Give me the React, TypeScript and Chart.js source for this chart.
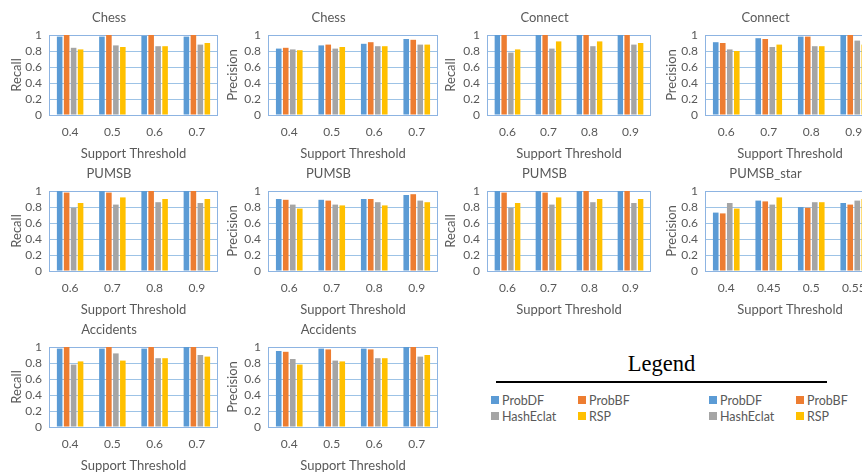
import React, { useEffect, useRef } from 'react';
import { Chart, registerables } from 'chart.js';

Chart.register(...registerables);

// ---------- data ----------
const seriesNames = ['ProbDF', 'ProbBF', 'HashEclat', 'RSP'];
const seriesColors = ['#5B9BD5', '#ED7D31', '#A5A5A5', '#FFC000'];

const chessThresholds = ['0.4', '0.5', '0.6', '0.7'];
const connectThresholds = ['0.6', '0.7', '0.8', '0.9'];
const pumsbThresholds = ['0.6', '0.7', '0.8', '0.9'];
const pumsbStarThresholds = ['0.4', '0.45', '0.5', '0.55'];
const accidentsThresholds = ['0.4', '0.5', '0.6', '0.7'];

const yTicks = [0, 0.2, 0.4, 0.6, 0.8, 1];

// each: [ProbDF, ProbBF, HashEclat, RSP]
const chessRecall = [
  [0.98, 0.98, 0.99, 0.98],
  [1, 1, 1, 1],
  [0.84, 0.87, 0.86, 0.88],
  [0.82, 0.85, 0.86, 0.9],
];
const chessPrecision = [
  [0.83, 0.87, 0.89, 0.95],
  [0.84, 0.88, 0.91, 0.94],
  [0.82, 0.83, 0.86, 0.88],
  [0.81, 0.85, 0.86, 0.88],
];
const connectRecall = [
  [1, 1, 1, 1],
  [1, 1, 1, 1],
  [0.78, 0.83, 0.86, 0.88],
  [0.82, 0.92, 0.92, 0.9],
];
const connectPrecision = [
  [0.91, 0.96, 0.98, 1],
  [0.9, 0.95, 0.98, 1],
  [0.82, 0.85, 0.86, 0.93],
  [0.8, 0.88, 0.86, 0.88],
];
const pumsbRecall = [
  [1, 1, 1, 1],
  [0.98, 0.98, 1, 1],
  [0.79, 0.83, 0.86, 0.85],
  [0.85, 0.92, 0.9, 0.9],
];
const pumsbPrecision = [
  [0.9, 0.89, 0.9, 0.95],
  [0.89, 0.88, 0.9, 0.96],
  [0.83, 0.83, 0.86, 0.88],
  [0.78, 0.82, 0.82, 0.86],
];
const pumsbRecall2 = [
  [1, 1, 1, 1],
  [0.98, 0.98, 1, 1],
  [0.79, 0.83, 0.86, 0.85],
  [0.85, 0.92, 0.9, 0.9],
];
const pumsbStarPrecision = [
  [0.73, 0.88, 0.8, 0.85],
  [0.72, 0.87, 0.79, 0.83],
  [0.85, 0.83, 0.86, 0.88],
  [0.78, 0.92, 0.86, 0.9],
];
const accidentsRecall = [
  [0.98, 0.98, 0.98, 1],
  [1, 1, 1, 1],
  [0.78, 0.92, 0.86, 0.9],
  [0.82, 0.83, 0.86, 0.88],
];
const accidentsPrecision = [
  [0.95, 0.98, 0.98, 1],
  [0.94, 0.97, 0.97, 1],
  [0.85, 0.83, 0.86, 0.88],
  [0.78, 0.82, 0.86, 0.9],
];

const panels = [
  { title: 'Chess', yLabel: 'Recall', labels: chessThresholds, values: chessRecall },
  { title: 'Chess', yLabel: 'Precision', labels: chessThresholds, values: chessPrecision },
  { title: 'Connect', yLabel: 'Recall', labels: connectThresholds, values: connectRecall },
  { title: 'Connect', yLabel: 'Precision', labels: connectThresholds, values: connectPrecision },
  { title: 'PUMSB', yLabel: 'Recall', labels: pumsbThresholds, values: pumsbRecall },
  { title: 'PUMSB', yLabel: 'Precision', labels: pumsbThresholds, values: pumsbPrecision },
  { title: 'PUMSB', yLabel: 'Recall', labels: pumsbThresholds, values: pumsbRecall2 },
  { title: 'PUMSB_star', yLabel: 'Precision', labels: pumsbStarThresholds, values: pumsbStarPrecision },
  { title: 'Accidents', yLabel: 'Recall', labels: accidentsThresholds, values: accidentsRecall },
  { title: 'Accidents', yLabel: 'Precision', labels: accidentsThresholds, values: accidentsPrecision },
];

// ---------- layout / style ----------
const colPlotLeft = [49, 268, 487, 705];
const colPlotWidth = [169, 170, 164, 170];
const colYTitleX = [17, 14, 13, 16];
const rowTop = [0, 156, 312];
const Y_AXIS_W = 49;
const CANVAS_H = 162;
const X_AXIS_H = 47;
const TEXT = '#595959';
const GRID = '#9DC3E6';
const BORDER = '#8DB4E2';
const FONT = 'Lato, "Noto Sans", sans-serif';

const plotBorder = {
  id: 'plotBorder',
  beforeDatasetsDraw(chart: any) {
    const { ctx, chartArea } = chart;
    const { left, top, right, bottom } = chartArea;
    ctx.save();
    ctx.strokeStyle = BORDER;
    ctx.lineWidth = 1;
    ctx.strokeRect(Math.round(left) + 0.5, Math.round(top) + 0.5, Math.round(right - left) - 1, Math.round(bottom - top));
    ctx.restore();
  },
};

function Panel({ index }: { index: number }) {
  const ref = useRef<HTMLCanvasElement | null>(null);
  const p = panels[index];
  const col = index % 4;
  const row = Math.floor(index / 4);
  const width = Y_AXIS_W + colPlotWidth[col] + 1;
  const left = colPlotLeft[col] - Y_AXIS_W;
  const top = rowTop[row];

  useEffect(() => {
    if (!ref.current) return;
    const chart = new Chart(ref.current, {
      type: 'bar',
      data: {
        labels: p.labels,
        datasets: seriesNames.map((name, i) => ({
          label: name,
          data: p.values[i],
          backgroundColor: seriesColors[i],
          borderWidth: 0,
          categoryPercentage: 0.66,
          barPercentage: 0.8,
        })),
      },
      options: {
        responsive: false,
        maintainAspectRatio: false,
        animation: false,
        layout: { padding: { left: 0, right: 1, top: 0, bottom: 0 } },
        plugins: {
          legend: { display: false },
          tooltip: { enabled: false },
          title: {
            display: true,
            text: p.title,
            color: TEXT,
            font: { family: FONT, size: 13, weight: 'normal' },
            padding: { top: 10, bottom: 9.4 },
          },
        },
        scales: {
          x: {
            grid: { display: false, drawTicks: false },
            border: { display: false },
            ticks: { color: TEXT, font: { family: FONT, size: 12 }, padding: 10, autoSkip: false, maxRotation: 0 },
            title: {
              display: true,
              text: 'Support Threshold',
              color: TEXT,
              font: { family: FONT, size: 13 },
              padding: { top: 0, bottom: 0 },
            },
            afterFit: (s: any) => {
              s.height = X_AXIS_H;
            },
          },
          y: {
            min: 0,
            max: 1,
            afterBuildTicks: (s: any) => {
              s.ticks = yTicks.map((v) => ({ value: v }));
            },
            ticks: {
              color: TEXT,
              font: { family: FONT, size: 12 },
              padding: 7,
              autoSkip: false,
              callback: (v: any) => String(Math.round(Number(v) * 10) / 10),
            },
            grid: { color: GRID, lineWidth: 1, drawTicks: false },
            border: { display: false },
            title: {
              display: true,
              text: p.yLabel,
              color: TEXT,
              font: { family: FONT, size: 13 },
              padding: { top: colYTitleX[col] - 7.8, bottom: 0 },
            },
            afterFit: (s: any) => {
              s.width = Y_AXIS_W;
            },
          },
        },
      },
      plugins: [plotBorder],
    } as any);
    return () => chart.destroy();
  }, [index]);

  return (
    <canvas
      ref={ref}
      width={width}
      height={CANVAS_H}
      style={{ position: 'absolute', left, top, width, height: CANVAS_H }}
    />
  );
}

const legendCols = [
  { x: 491, names: [0, 2] },
  { x: 578, names: [1, 3] },
  { x: 709, names: [0, 2] },
  { x: 796, names: [1, 3] },
];
const legendRowsY = [400, 416];

export default function App() {
  return (
    <div
      style={{
        position: 'fixed',
        left: 0,
        top: 0,
        width: 862,
        height: 474,
        overflow: 'hidden',
        background: '#ffffff',
      }}
    >
      {panels.map((_, i) => (
        <Panel key={i} index={i} />
      ))}
      <div
        style={{
          position: 'absolute',
          left: 496,
          width: 331,
          top: 350,
          textAlign: 'center',
          fontFamily: '"Liberation Serif", "DejaVu Serif", serif',
          fontSize: 22.5,
          lineHeight: '28px',
          color: '#000',
        }}
      >
        Legend
      </div>
      <div style={{ position: 'absolute', left: 496, top: 381, width: 331, height: 2, background: '#000' }} />
      {legendCols.map((c, ci) =>
        c.names.map((si, ri) => (
          <div
            key={ci + '-' + ri}
            style={{
              position: 'absolute',
              left: c.x,
              top: legendRowsY[ri] - 8,
              height: 16,
              display: 'flex',
              alignItems: 'center',
              fontFamily: FONT,
              fontSize: 12.5,
              color: TEXT,
              whiteSpace: 'nowrap',
            }}
          >
            <span style={{ display: 'inline-block', width: 8, height: 8, background: seriesColors[si], marginRight: 3 }} />
            {seriesNames[si]}
          </div>
        ))
      )}
    </div>
  );
}
